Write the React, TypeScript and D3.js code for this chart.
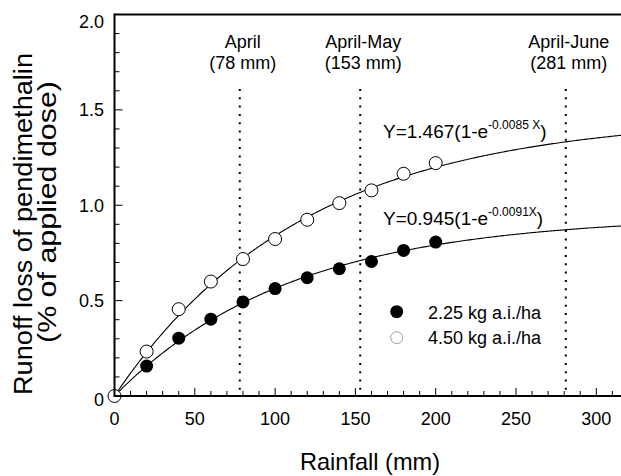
import React from "react";
import * as d3 from "d3";

// ---- data ----
const rainfall = [0, 20, 40, 60, 80, 100, 120, 140, 160, 180, 200];
const lossLow = [0, 0.157, 0.303, 0.403, 0.493, 0.563, 0.62, 0.667, 0.705, 0.763, 0.807]; // 2.25 kg a.i./ha
const lossHigh = [0, 0.233, 0.455, 0.6, 0.718, 0.823, 0.924, 1.011, 1.078, 1.165, 1.221]; // 4.50 kg a.i./ha
const seriesNames = ["2.25 kg a.i./ha", "4.50 kg a.i./ha"];
const fitA = [0.945, 1.467];
const fitK = [0.0091, 0.0085];
const eqMain = ["Y=0.945(1-e", "Y=1.467(1-e"];
const eqSup = ["-0.0091X", "-0.0085 X"];
const periodNames = ["April", "April-May", "April-June"];
const periodRain = [78, 153, 281];
const xTicks = [0, 50, 100, 150, 200, 250, 300];
const yTicks = [0, 0.5, 1.0, 1.5, 2.0];
const yTickLabels = ["0", "0.5", "1.0", "1.5", "2.0"];

const W = 621;
const H = 476;
const FONT = "'Liberation Sans', Arial, Helvetica, sans-serif";

export default function App() {
  const x = d3.scaleLinear().domain([0, 316]).range([114.5, 622]);
  const y = d3.scaleLinear().domain([0, 2]).range([396, 14.5]);
  const [x0, x1] = x.range();
  const [y0, y1] = y.range();

  const minorX = d3.range(0, 317, 10);
  const minorY = d3.range(0, 2.001, 0.1);

  const curveX = d3.range(0, 316.5, 1);

  const curvePath = (a: number, k: number) =>
    d3
      .line<number>()
      .x((d) => x(d))
      .y((d) => y(a * (1 - Math.exp(-k * d))))
      .curve(d3.curveLinear)(curveX) as string;

  return (
    <svg
      width={W}
      height={H}
      style={{ position: "absolute", left: 0, top: 0, background: "#fff" }}
      fontFamily={FONT}
    >
      <rect x={0} y={0} width={W} height={H} fill="#fff" />

      {/* vertical period lines */}
      {periodRain.map((r, i) => (
        <line
          key={"pl" + i}
          x1={x(r)}
          x2={x(r)}
          y1={89}
          y2={y0}
          stroke="#000"
          strokeWidth={2}
          strokeDasharray="2,6.3"
        />
      ))}
      {periodRain.map((r, i) => (
        <g key={"pt" + i} fontSize={18} textAnchor="middle" fill="#000">
          <text x={x(r) + 3} y={48}>{periodNames[i]}</text>
          <text x={x(r) + 3} y={69}>{`(${r} mm)`}</text>
        </g>
      ))}

      {/* fitted curves */}
      {fitA.map((a, i) => (
        <path key={"c" + i} d={curvePath(a, fitK[i])} fill="none" stroke="#000" strokeWidth={1.1} />
      ))}

      {/* equations */}
      {[1, 0].map((i) => (
        <text key={"eq" + i} x={383} y={i === 1 ? 138 : 225} fontSize={19} fill="#000">
          <tspan>{eqMain[i]}</tspan>
          <tspan dy={-9} fontSize={12}>{eqSup[i]}</tspan>
          <tspan dy={9}>)</tspan>
        </text>
      ))}

      {/* data points */}
      {rainfall.map((r, i) =>
        i === 0 ? null : (
          <circle key={"lo" + i} cx={x(r)} cy={y(lossLow[i])} r={6.5} fill="#000" />
        )
      )}
      {rainfall.map((r, i) => (
        <circle
          key={"hi" + i}
          cx={x(r)}
          cy={y(lossHigh[i])}
          r={6.5}
          fill="#fff"
          stroke="#000"
          strokeWidth={1}
        />
      ))}

      {/* axes */}
      <line x1={x0} x2={x1} y1={y0} y2={y0} stroke="#000" strokeWidth={2} />
      <line x1={x0} x2={x1} y1={y1} y2={y1} stroke="#000" strokeWidth={2} />
      <line x1={x0} x2={x0} y1={y1 - 1} y2={y0 + 1} stroke="#000" strokeWidth={2} />
      {minorX.map((v) => (
        <line
          key={"xt" + v}
          x1={x(v)}
          x2={x(v)}
          y1={y0}
          y2={y0 - (v % 50 === 0 ? 8 : 5)}
          stroke="#000"
          strokeWidth={1}
        />
      ))}
      {minorY.map((v, i) => (
        <line
          key={"yt" + i}
          x1={x0}
          x2={x0 + (i % 5 === 0 ? 8 : 5)}
          y1={y(v)}
          y2={y(v)}
          stroke="#000"
          strokeWidth={1}
        />
      ))}
      {xTicks.map((v) => (
        <text key={"xl" + v} x={x(v)} y={425} fontSize={18} textAnchor="middle" fill="#000">
          {v}
        </text>
      ))}
      {yTicks.map((v, i) => (
        <text
          key={"yl" + i}
          x={104}
          y={Math.max(y(v), 22) + (v === 0 ? 4 : 0)}
          dy="0.35em"
          fontSize={18}
          textAnchor="end"
          fill="#000"
        >
          {yTickLabels[i]}
        </text>
      ))}

      {/* axis titles */}
      <text x={370} y={470} fontSize={24} textAnchor="middle" textLength={140} lengthAdjust="spacingAndGlyphs" fill="#000">
        Rainfall (mm)
      </text>
      <text
        transform="translate(32,224) rotate(-90)"
        fontSize={25}
        textAnchor="middle"
        textLength={342}
        lengthAdjust="spacingAndGlyphs"
        fill="#000"
      >
        Runoff loss of pendimethalin
      </text>
      <text
        transform="translate(56,212) rotate(-90)"
        fontSize={25}
        textAnchor="middle"
        textLength={262}
        lengthAdjust="spacingAndGlyphs"
        fill="#000"
      >
        (% of applied dose)
      </text>

      {/* legend */}
      <circle cx={396.7} cy={311.7} r={6.5} fill="#000" />
      <circle cx={396.7} cy={337.7} r={6} fill="#fff" stroke="#888" strokeWidth={0.8} />
      <text x={428} y={319} fontSize={18} fill="#000">{seriesNames[0]}</text>
      <text x={428} y={344} fontSize={18} fill="#000">{seriesNames[1]}</text>
    </svg>
  );
}
